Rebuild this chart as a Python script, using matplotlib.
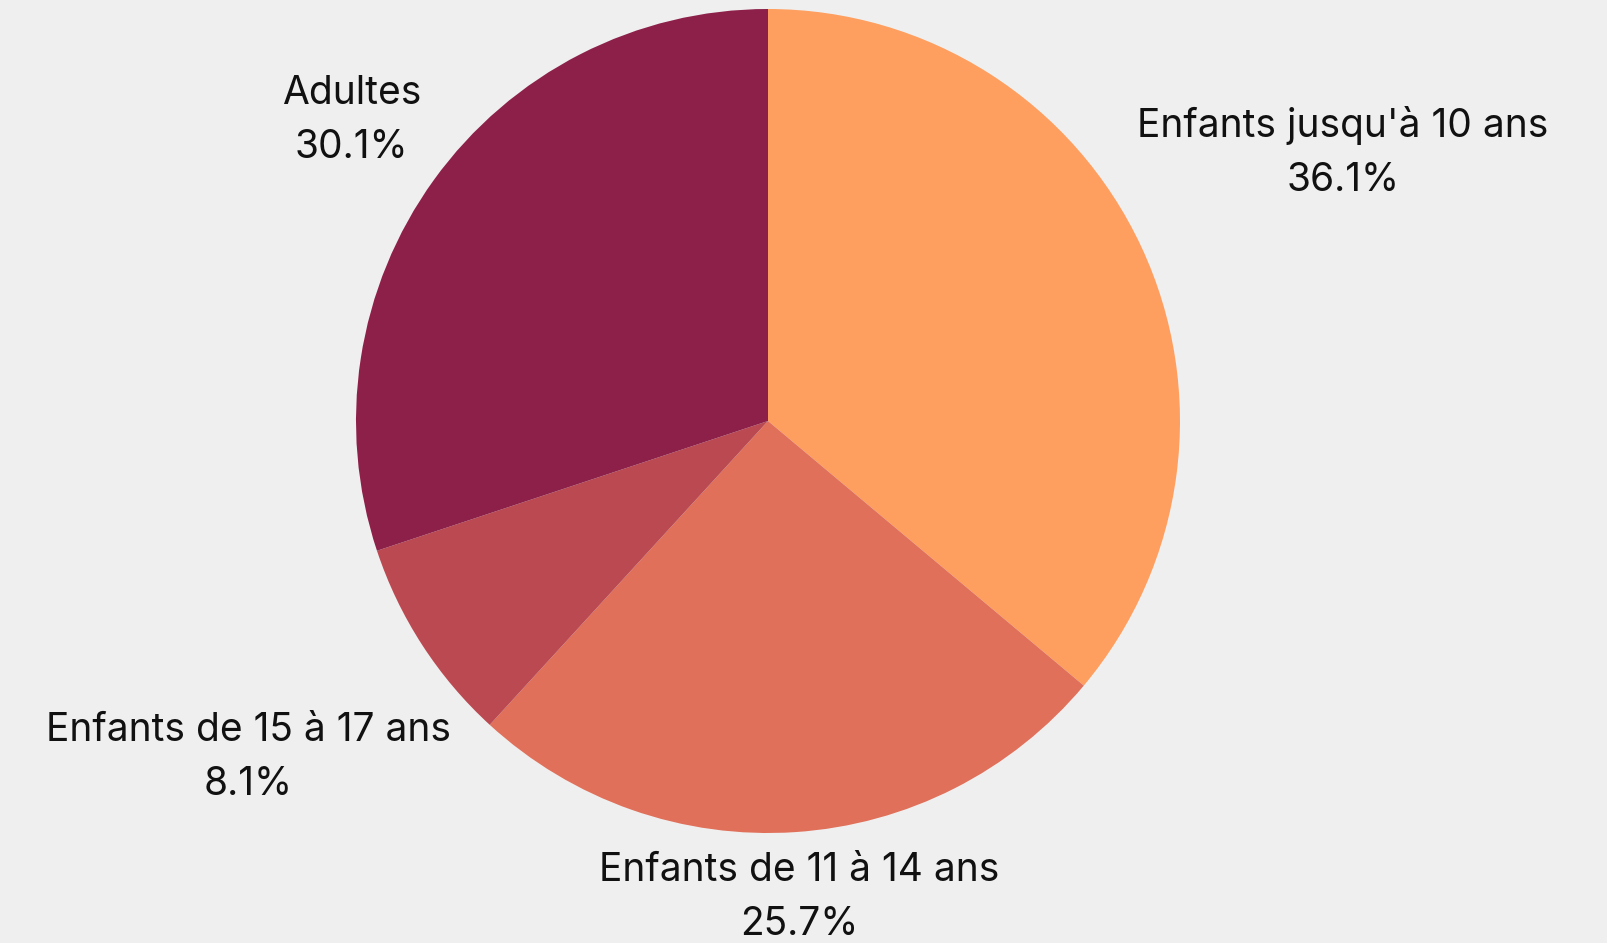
import numpy as np
import matplotlib.pyplot as plt

plt.rcParams['font.family'] = ['Inter', 'DejaVu Sans']

categories = ["Enfants jusqu'à 10 ans", "Enfants de 11 à 14 ans",
              "Enfants de 15 à 17 ans", "Adultes"]
values = [36.1, 25.7, 8.1, 30.1]
colors = ['#FF9F5F', '#E0705A', '#BA4952', '#8C2049']
bg = '#EFEFEF'

W, H = 1607, 943
cx, cy, R = 768, 421, 412

fig = plt.figure(figsize=(W / 100, H / 100), dpi=100, facecolor=bg)
ax = fig.add_axes([0, 0, 1, 1])
ax.set_facecolor(bg)

wedges, _ = ax.pie(values, colors=colors, startangle=90, counterclock=False,
                   radius=R, wedgeprops=dict(linewidth=0))

# pie resets the view, so set the pixel-like limits afterwards
ax.set_xlim(-cx, W - cx)
ax.set_ylim(-(H - cy), cy)
ax.set_aspect('equal')
ax.axis('off')

renderer = fig.canvas.get_renderer()
total = sum(values)
gap = R * 1.045
for w, cat, v in zip(wedges, categories, values):
    ang = np.deg2rad((w.theta1 + w.theta2) / 2)
    x, y = np.cos(ang), np.sin(ang)
    t = ax.text(0, 0, f"{cat}\n{v / total * 100:.1f}%", ha='center', va='center',
                multialignment='center', fontsize=28, linespacing=1.6,
                color='#111111')
    bb = t.get_window_extent(renderer)
    hw, hh = bb.width / 2, bb.height / 2
    # push the label out along the mid-angle until its box clears the gap
    lo, hi = 0.0, 3 * R
    for _ in range(60):
        d = (lo + hi) / 2
        dx = max(0, abs(d * x) - hw)
        dy = max(0, abs(d * y) - hh)
        if np.hypot(dx, dy) < gap:
            lo = d
        else:
            hi = d
    t.set_position((d * x, d * y))

fig.savefig('out.png', dpi=100, facecolor=bg)
